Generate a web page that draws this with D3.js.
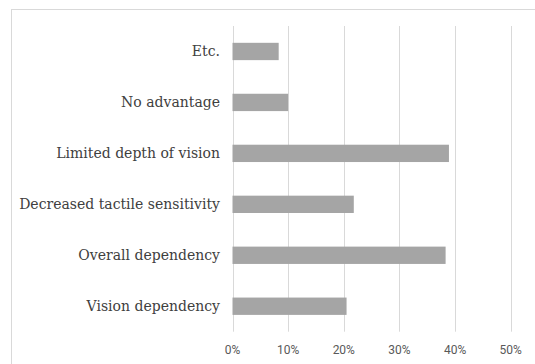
<!DOCTYPE html>
<html><head><meta charset="utf-8">
<script src="https://cdn.jsdelivr.net/npm/d3@7"></script>
<style>html,body{margin:0;padding:0;background:#fff;overflow:hidden}</style>
</head><body>
<svg id="c" width="535" height="364"></svg>
<script>
const categories = ["Etc.", "No advantage", "Limited depth of vision", "Decreased tactile sensitivity", "Overall dependency", "Vision dependency"];
const values = [0.083, 0.100, 0.389, 0.218, 0.383, 0.205];
const tickValues = [0, 0.1, 0.2, 0.3, 0.4, 0.5];

const svg = d3.select("#c");
// outer chart border
svg.append("rect").attr("x", 11.5).attr("y", 9.5).attr("width", 540).attr("height", 370)
  .attr("fill", "none").attr("stroke", "#d9d9d9").attr("stroke-width", 1);

const x = d3.scaleLinear().domain([0, 0.5]).range([232.5, 510.7]);
const y = d3.scaleBand().domain(categories).range([26, 331.7]).paddingInner(0.66).paddingOuter(0.33);

// gridlines
svg.append("g").selectAll("line").data(tickValues).join("line")
  .attr("x1", d => Math.round(x(d)) + 0.5).attr("x2", d => Math.round(x(d)) + 0.5)
  .attr("y1", 26).attr("y2", 331.7)
  .attr("stroke", "#d9d9d9").attr("stroke-width", 1);

// bars
svg.append("g").selectAll("rect").data(categories).join("rect")
  .attr("x", x(0)).attr("y", d => y(d))
  .attr("width", (d, i) => x(values[i]) - x(0)).attr("height", y.bandwidth())
  .attr("fill", "#a5a5a5");

// category labels
svg.append("g").selectAll("text").data(categories).join("text")
  .attr("x", 220).attr("y", d => y(d) + y.bandwidth() / 2)
  .attr("dy", "0.35em").attr("text-anchor", "end")
  .attr("font-family", "'DejaVu Serif', serif").attr("font-size", 14)
  .attr("fill", "#404040").text(d => d);

// x axis tick labels
const fmt = d3.format(".0%");
svg.append("g").selectAll("text").data(tickValues).join("text")
  .attr("x", d => x(d)).attr("y", 354).attr("text-anchor", "middle")
  .attr("font-family", "Roboto, 'Liberation Sans', sans-serif").attr("font-size", 12)
  .attr("fill", "#595959").text(d => fmt(d));
</script>
</body></html>
